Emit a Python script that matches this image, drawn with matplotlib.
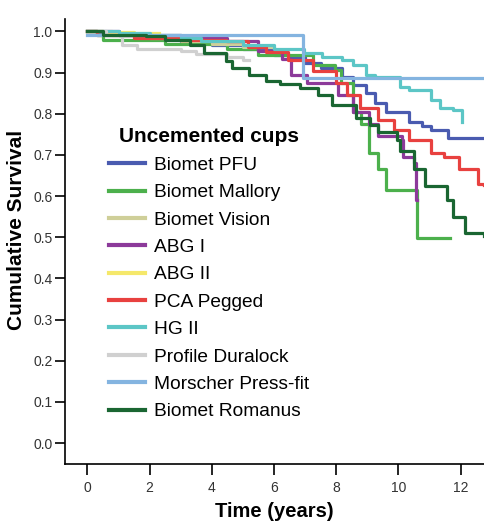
import matplotlib.pyplot as plt

plt.rcParams['font.family'] = ['Liberation Sans', 'DejaVu Sans']

# survival curves (time in years, cumulative survival)
pfu_t = [0, 0.3, 1, 2, 3, 4, 5, 6, 6.5, 7, 7.5, 8.2, 8.55, 8.95, 9.25, 9.6, 10.35, 10.75, 11.05, 11.6, 12.75]
pfu_s = [1.0, 0.993, 0.99, 0.985, 0.975, 0.967, 0.958, 0.943, 0.937, 0.924, 0.91, 0.89, 0.87, 0.85, 0.825, 0.805, 0.78, 0.77, 0.76, 0.741, 0.741]

mallory_t = [0, 0.3, 0.5, 2.5, 4.5, 5.5, 7.25, 7.95, 8.15, 8.55, 8.8, 9.05, 9.35, 9.6, 10.6, 11.65]
mallory_s = [1.0, 0.99, 0.98, 0.97, 0.957, 0.943, 0.918, 0.905, 0.875, 0.805, 0.775, 0.705, 0.665, 0.615, 0.498, 0.498]

vision_t = [0, 0.8, 2, 3, 4, 5, 6]
vision_s = [1.0, 0.99, 0.985, 0.976, 0.97, 0.962, 0.952]

abg1_t = [0, 1, 3, 4.5, 5.5, 6.25, 6.55, 7.05, 8.05, 8.55, 9.05, 9.35, 10.1, 10.15, 10.5, 10.55, 10.6]
abg1_s = [1.0, 0.99, 0.985, 0.976, 0.952, 0.934, 0.895, 0.875, 0.845, 0.805, 0.775, 0.745, 0.735, 0.695, 0.68, 0.59, 0.59]

abg2_t = [0, 0.5, 1.5, 2.3]
abg2_s = [1.0, 0.998, 0.996, 0.995]

pca_t = [0, 0.3, 1.5, 3, 4.45, 5.15, 5.75, 6.45, 7.25, 8.0, 8.35, 8.75, 9.35, 9.85, 10.35, 11.05, 11.45, 11.95, 12.55, 12.75]
pca_s = [1.0, 0.99, 0.985, 0.98, 0.976, 0.962, 0.95, 0.93, 0.904, 0.875, 0.845, 0.815, 0.785, 0.76, 0.735, 0.705, 0.695, 0.665, 0.63, 0.627]

hg2_t = [0, 1, 2, 3, 3.65, 5, 6, 6.95, 7.55, 8.2, 8.55, 8.95, 9.25, 10.05, 10.35, 11.05, 11.35, 11.75, 12.05]
hg2_s = [1.0, 0.995, 0.99, 0.985, 0.977, 0.967, 0.957, 0.948, 0.938, 0.93, 0.918, 0.895, 0.888, 0.864, 0.858, 0.834, 0.815, 0.81, 0.78]

profile_t = [0, 0.6, 1.1, 1.6, 3.0, 3.5, 4.5, 5.0, 5.2]
profile_s = [1.0, 0.99, 0.967, 0.957, 0.952, 0.946, 0.937, 0.93, 0.93]

morscher_t = [0, 6.93, 12.75]
morscher_s = [0.99, 0.886, 0.886]

romanus_t = [0, 0.5, 1.9, 2.5, 3.3, 3.75, 4.45, 4.65, 5.2, 5.75, 6.2, 6.85, 7.4, 7.85, 8.65, 9.1, 9.35, 9.95, 10.05, 10.5, 10.85, 11.55, 11.75, 12.15, 12.75]
romanus_s = [1.0, 0.99, 0.988, 0.98, 0.967, 0.948, 0.928, 0.911, 0.895, 0.879, 0.872, 0.862, 0.845, 0.822, 0.79, 0.772, 0.755, 0.735, 0.71, 0.665, 0.625, 0.59, 0.55, 0.51, 0.503]

labels = ['Biomet PFU', 'Biomet Mallory', 'Biomet Vision', 'ABG I', 'ABG II',
          'PCA Pegged', 'HG II', 'Profile Duralock', 'Morscher Press-fit', 'Biomet Romanus']
colors = ['#4a5bb0', '#4cb04c', '#cfcf99', '#8c3a9a', '#f5e86a',
          '#e8413f', '#5cc6c6', '#d0d0d0', '#84b4e0', '#1a6632']
curves = [(pfu_t, pfu_s), (mallory_t, mallory_s), (vision_t, vision_s), (abg1_t, abg1_s),
          (abg2_t, abg2_s), (pca_t, pca_s), (hg2_t, hg2_s), (profile_t, profile_s),
          (morscher_t, morscher_s), (romanus_t, romanus_s)]

fig = plt.figure(figsize=(4.84, 5.24), dpi=100)
ax = fig.add_axes([0.1343, 0.1145, 0.8657, 0.8492])

for (t, s), lab, col in zip(curves, labels, colors):
    ax.plot(t, s, drawstyle='steps-post', color=col, lw=2.3, label=lab)

ax.set_xlim(-0.72, 12.75)
ax.set_ylim(-0.051, 1.030)
ax.set_xticks(range(0, 13, 2))
ax.set_yticks([i / 10 for i in range(11)])
ax.set_yticklabels([f'{i / 10:.1f}' for i in range(11)])
ax.tick_params(axis='both', direction='out', labelsize=10, labelcolor='#333333', width=1.2)
ax.tick_params(axis='x', length=8, pad=4)
ax.tick_params(axis='y', length=7, pad=2)
for side in ['top', 'right']:
    ax.spines[side].set_visible(False)
for side in ['left', 'bottom']:
    ax.spines[side].set_linewidth(1.2)

ax.set_xlabel('Time (years)', fontsize=14.5, fontweight='bold', labelpad=5)
ax.set_ylabel('Cumulative Survival', fontsize=15, fontweight='bold')
ax.yaxis.set_label_coords(-0.093, 0.526)

leg = ax.legend(loc='upper left', bbox_to_anchor=(0.064, 0.795), frameon=False,
                title='Uncemented cups', fontsize=13.8, handlelength=1.9,
                handletextpad=0.42, labelspacing=0.52)
leg.get_title().set_fontweight('bold')
leg.get_title().set_fontsize(15)
for line in leg.get_lines():
    line.set_linewidth(3)

plt.savefig('out.png', dpi=100)
